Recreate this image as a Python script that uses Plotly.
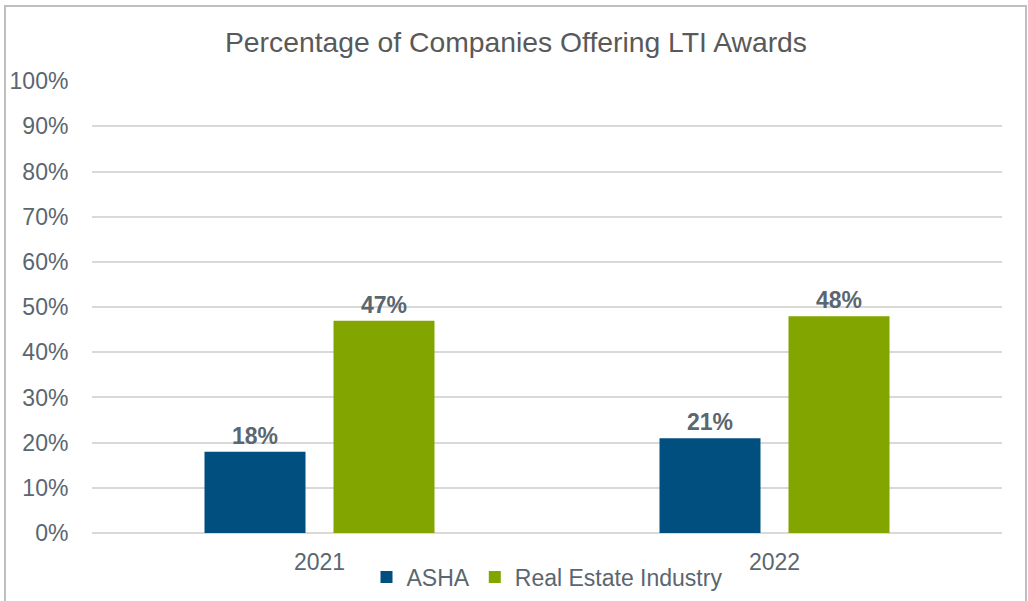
import plotly.graph_objects as go

categories = ["2021", "2022"]
asha = [0.18, 0.21]
real_estate = [0.47, 0.48]
series_names = ["ASHA", "Real Estate Industry"]
title_text = "Percentage of Companies Offering LTI Awards"

FONT = "Liberation Sans, Arial, sans-serif"
GRAY = "#5A6670"
TITLE_GRAY = "#595959"
FS = 23

fig = go.Figure()
fig.add_trace(go.Bar(
    x=categories, y=asha, name=series_names[0],
    marker=dict(color="#004F7E", line=dict(width=0)),
    text=[f"{v:.0%}" for v in asha], textposition="outside",
    textfont=dict(family=FONT, size=FS, color=GRAY, weight="bold"),
    cliponaxis=False,
))
fig.add_trace(go.Bar(
    x=categories, y=real_estate, name=series_names[1],
    marker=dict(color="#82A500", line=dict(width=0)),
    text=[f"{v:.0%}" for v in real_estate], textposition="outside",
    textfont=dict(family=FONT, size=FS, color=GRAY, weight="bold"),
    cliponaxis=False,
))

L, R, T, B = 92, 26, 81, 68
W, H = 1028, 601
pw, ph = W - L - R, H - T - B

fig.update_layout(
    width=W, height=H,
    margin=dict(l=L, r=R, t=T, b=B, autoexpand=False),
    paper_bgcolor="white", plot_bgcolor="white",
    barmode="group", bargap=0.433, bargroupgap=0.217,
    font=dict(family=FONT, color=GRAY, size=FS),
    title=dict(text=title_text, x=(516 - L) / pw, xref="paper", xanchor="center",
               y=1 - 42 / H, yanchor="middle",
               font=dict(family=FONT, size=28.3, color=TITLE_GRAY)),
    showlegend=True,
    legend=dict(orientation="h", x=0.5, xanchor="center", y=-(577 - 533) / ph,
                yanchor="middle", font=dict(family=FONT, size=FS, color=GRAY),
                traceorder="normal", itemwidth=30),
    xaxis=dict(showgrid=False, showline=False, ticks="outside", ticklen=8,
               automargin=False,
               tickcolor="rgba(0,0,0,0)", tickfont=dict(family=FONT, size=FS, color=GRAY)),
    yaxis=dict(range=[0, 1.0005], dtick=0.1, tickformat=".0%", showgrid=True,
               automargin=False,
               gridcolor="#D9D9D9", gridwidth=1.5, zeroline=True, zerolinecolor="#D9D9D9",
               zerolinewidth=1.5, showline=False, ticks="outside", ticklen=18,
               tickcolor="rgba(0,0,0,0)", tickfont=dict(family=FONT, size=FS, color=GRAY)),
    shapes=[dict(type="rect", xref="paper", yref="paper",
                 x0=(5 - L) / pw, x1=(1026 - L) / pw,
                 y0=-(620 - 533) / ph, y1=(533 - 6) / ph,
                 line=dict(color="#BFBFBF", width=2), fillcolor="rgba(0,0,0,0)", layer="below")],
)

fig.write_html("out.html", config={"displayModeBar": False},
               post_script="document.body.style.margin='0';document.body.style.overflow='hidden';")
